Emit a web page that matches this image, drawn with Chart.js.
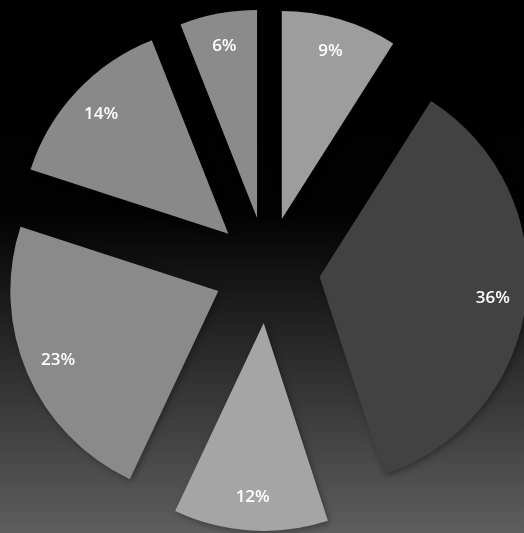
<!DOCTYPE html>
<html>
<head>
    <title>Pie</title>
    <script src="https://cdn.jsdelivr.net/npm/chart.js"></script>
    <style>
        html, body { margin: 0; padding: 0; background: #000; }
        #wrap { width: 524px; height: 533px; }
    </style>
</head>
<body>
    <div id="wrap"><canvas id="pieChart" width="524" height="533"></canvas></div>
    <script>
        // slices clockwise from 12 o'clock
        const labels = ['A', 'B', 'C', 'D', 'E', 'F'];
        const values = [9, 36, 12, 23, 14, 6];
        const colors = ['#9d9d9d', '#424242', '#a5a5a5', '#8a8a8a', '#898989', '#8b8b8b'];

        const EXPLODE = 53;

        const background = {
            id: 'background',
            beforeDraw(chart) {
                const ctx = chart.ctx;
                const g = ctx.createLinearGradient(0, 0, 0, chart.height);
                g.addColorStop(0, '#000000');
                g.addColorStop(0.4, '#020202');
                g.addColorStop(1, '#5e5e5e');
                ctx.save();
                ctx.fillStyle = g;
                ctx.fillRect(0, 0, chart.width, chart.height);
                ctx.restore();
            }
        };

        // pull every slice out along its bisector, then write the percentages
        const explode = {
            id: 'explode',
            beforeDatasetDraw(chart, args) {
                const ctx = chart.ctx;
                args.meta.data.forEach(arc => {
                    const mid = (arc.startAngle + arc.endAngle) / 2;
                    ctx.save();
                    ctx.translate(Math.cos(mid) * EXPLODE, Math.sin(mid) * EXPLODE);
                    ctx.shadowColor = 'rgba(0,0,0,0.35)';
                    ctx.shadowBlur = 6;
                    ctx.shadowOffsetX = 2;
                    ctx.shadowOffsetY = 2;
                    arc.draw(ctx);
                    ctx.restore();
                });
                return false;
            },
            afterDatasetsDraw(chart) {
                const ctx = chart.ctx;
                const meta = chart.getDatasetMeta(0);
                ctx.save();
                ctx.fillStyle = '#ffffff';
                ctx.font = '600 17px "Open Sans"';
                ctx.textAlign = 'center';
                ctx.textBaseline = 'middle';
                meta.data.forEach((arc, i) => {
                    const mid = (arc.startAngle + arc.endAngle) / 2;
                    const r = EXPLODE + arc.outerRadius * 0.84;
                    ctx.fillText(values[i] + '%', arc.x + Math.cos(mid) * r, arc.y + Math.sin(mid) * r);
                });
                ctx.restore();
            }
        };

        const ctx = document.getElementById('pieChart').getContext('2d');
        new Chart(ctx, {
            type: 'pie',
            data: {
                labels: labels,
                datasets: [{
                    data: values,
                    backgroundColor: colors,
                    borderWidth: 0,
                    hoverOffset: 0,
                    radius: 208
                }]
            },
            options: {
                responsive: false,
                animation: false,
                events: [],
                layout: { padding: { left: 10, right: 0, top: 7, bottom: 0 } },
                plugins: {
                    legend: { display: false },
                    tooltip: { enabled: false }
                }
            },
            plugins: [background, explode]
        });
    </script>
</body>
</html>
